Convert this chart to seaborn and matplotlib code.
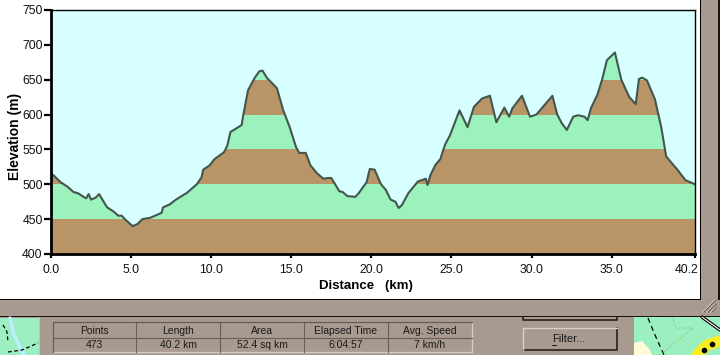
import matplotlib
matplotlib.use("Agg")
import matplotlib.pyplot as plt
from matplotlib import font_manager
from matplotlib.patches import Polygon, Rectangle
from matplotlib.transforms import ScaledTranslation
import numpy as np
import pandas as pd
import seaborn as sns

# Data
distance_km = [0.0, 0.03, 0.2, 0.6, 1.0, 1.4, 1.7, 2.1, 2.2, 2.35, 2.5, 2.8, 3.0, 3.5, 3.9, 4.2, 4.4, 4.7, 5.1,
               5.4, 5.7, 6.2, 6.9, 7.0, 7.4, 7.8, 8.5, 9.1, 9.4, 9.5, 9.9, 10.2, 10.8, 11.0, 11.2, 11.7, 11.9,
               12.0, 12.3, 12.7, 13.0, 13.2, 13.5, 14.1, 14.5, 14.9, 15.3, 15.5, 15.9, 16.2, 16.6, 17.0, 17.3,
               17.5, 18.0, 18.2, 18.5, 19.0, 19.2, 19.7, 19.9, 20.2, 20.6, 20.9, 21.2, 21.5, 21.7, 21.9, 22.3,
               22.9, 23.4, 23.5, 23.7, 24.0, 24.3, 24.6, 24.9, 25.5, 26.0, 26.4, 26.9, 27.4, 27.8, 28.3, 28.6,
               28.8, 29.4, 29.9, 30.3, 31.3, 31.6, 31.9, 32.2, 32.6, 32.9, 33.3, 33.5, 33.7, 34.1, 34.4, 34.7,
               35.2, 35.6, 36.1, 36.5, 36.7, 36.9, 37.2, 37.7, 38.1, 38.4, 38.8, 39.1, 39.6, 40.2]
elevation_m = [488, 515, 512, 503, 497, 489, 487, 481, 480, 486, 478, 481, 486, 467, 461, 455, 455, 448, 440,
               443, 450, 452, 459, 467, 471, 478, 488, 500, 510, 521, 527, 536, 546, 555, 575, 582, 585, 599,
               635, 652, 662, 663, 652, 638, 606, 582, 553, 545, 545, 527, 516, 508, 509, 509, 490, 489, 483,
               482, 487, 503, 522, 521, 500, 492, 478, 475, 466, 470, 487, 504, 508, 499, 514, 528, 536, 557,
               570, 606, 582, 611, 623, 627, 589, 610, 597, 609, 627, 597, 600, 627, 600, 587, 578, 597, 599,
               597, 592, 609, 628, 650, 678, 689, 650, 625, 615, 651, 653, 649, 622, 581, 540, 529, 521, 506, 500]
band_edges = [400, 450, 500, 550, 600, 650, 700]
band_colors = ["#B89467", "#9BF2BD", "#B89467", "#9BF2BD", "#B89467", "#9BF2BD"]
y_ticks = [400, 450, 500, 550, 600, 650, 700, 750]
x_ticks = [0.0, 5.0, 10.0, 15.0, 20.0, 25.0, 30.0, 35.0, 40.2]
x_tick_labels = ["0.0", "5.0", "10.0", "15.0", "20.0", "25.0", "30.0", "35.0", "40.2"]
stat_names = ["Points", "Length", "Area", "Elapsed Time", "Avg. Speed"]
stat_values = ["473", "40.2 km", "52.4 sq km", "6:04:57", "7 km/h"]

GRAY = "#A99A90"
DARK_EDGE = "#6B5C55"
LIGHT_EDGE = "#D9CFC8"

sns.set_theme(style="white")
plt.rcParams["font.family"] = ["Liberation Sans", "DejaVu Sans"]

# narrow face for the small digits, if it is there
installed = {f.name for f in font_manager.fontManager.ttflist}
has_narrow = "Liberation Sans Narrow" in installed
print("narrow:", has_narrow)
SMALL = ["Liberation Sans Narrow", "DejaVu Sans"] if has_narrow else ["Liberation Sans", "DejaVu Sans"]
TICK_SIZE = 10.5 if has_narrow else 8.8
TABLE_SIZE = 9 if has_narrow else 7.5

fig = plt.figure(figsize=(7.2, 3.55), dpi=100, facecolor="white")

# Window chrome, drawn on a full-figure axes in pixel coordinates
bg = fig.add_axes([0, 0, 1, 1], zorder=0)
bg.set_xlim(0, 720)
bg.set_ylim(355, 0)
bg.axis("off")


def box(x0, y0, x1, y1, color):
    bg.add_patch(Rectangle((x0, y0), x1 - x0, y1 - y0, facecolor=color, edgecolor="none"))


def etched(x0, y0, x1, y1):
    bg.plot([x0, x1, x1], [y1, y1, y0], color=LIGHT_EDGE, lw=0.9)
    bg.plot([x0, x0, x1], [y1, y0, y0], color=DARK_EDGE, lw=0.9)


box(701, 0, 718, 300, GRAY)
box(718, 0, 720, 300, "#1A1010")
box(700, 0, 701, 300, "black")
box(0, 300, 720, 355, GRAY)
box(0, 299, 701, 300, "black")
box(0, 316, 720, 317, "#1A1010")
box(39, 317, 40, 355, "#C8BDB5")

# resize grip
for off in (4, 8, 12):
    bg.plot([715 - off, 715], [312, 312 - off], color="#E5DDD8", lw=0.8)
    bg.plot([716 - off, 716], [312, 312 - off], color="#6B5C55", lw=0.8)

# bits of the map behind the dialog
box(0, 318, 39, 355, "#9BEFC0")
bg.plot([10, 14, 24], [318, 335, 355], color="#BFEFFF", lw=2.5)
bg.plot([3, 7, 8], [325, 332, 342], color="black", lw=0.9, ls=(0, (3, 2)))
bg.plot([8, 22, 38], [352, 350, 343], color="black", lw=0.9, ls=(0, (3, 2)))
box(634, 317, 720, 355, "#9BEFC0")
bg.add_patch(Polygon([(634, 343), (642, 341), (650, 350), (652, 355), (634, 355)],
                     facecolor="#FFFBD8", edgecolor="none"))
bg.plot([648, 655, 664], [318, 335, 355], color="black", lw=0.9, ls=(0, (4, 3)))
bg.plot([672, 676, 693, 660], [317, 328, 328, 355], color="#8FBF5A", lw=0.8, ls=":")
bg.plot([702, 720], [317, 330], color="black", lw=2.4)
bg.plot([702, 720], [317, 330], color="white", lw=0.8)
bg.plot([697, 707, 720], [355, 345, 341], color="#F8EE20", lw=8)
bg.plot([704, 712], [350, 344], color="black", ls="none", marker="o", ms=3)

# stats table
col_edges = [53, 136, 220, 304, 388, 472]
for i, name in enumerate(stat_names):
    x0, x1 = col_edges[i], col_edges[i + 1]
    etched(x0, 322, x1, 338)
    etched(x0, 338, x1, 352)
    bg.text((x0 + x1) / 2, 330.5, name, ha="center", va="center", fontsize=TABLE_SIZE,
            color="#1A1A1A", family=SMALL)
    bg.text((x0 + x1) / 2, 345, stat_values[i], ha="center", va="center", fontsize=TABLE_SIZE,
            color="#1A1A1A", family=SMALL)

# buttons
bg.plot([523, 523, 617, 617], [317, 320, 320, 317], color="#2A2020", lw=1.2)
bg.plot([523, 617, 617], [350, 350, 328], color="#2A2020", lw=1.2)
bg.plot([523, 523, 617], [350, 328, 328], color=LIGHT_EDGE, lw=1.0)
bg.text(569, 339, "Filter...", ha="center", va="center", fontsize=8, color="#1A1A1A")
bg.plot([552, 556], [344.5, 344.5], color="#1A1A1A", lw=0.7)

# Elevation profile
ax = fig.add_axes([51 / 720, 1 - 254 / 355, 644 / 720, 244 / 355], zorder=1)
ax.set_facecolor("#D8FFFF")
df = pd.DataFrame({"distance": distance_km, "elevation": elevation_m})

ground = ax.fill_between(df["distance"], 400, df["elevation"], color="none", lw=0)
clip = ground.get_paths()[0]
for lo, hi, color in zip(band_edges[:-1], band_edges[1:], band_colors):
    band = ax.axhspan(lo, hi, facecolor=color, edgecolor="none", zorder=1)
    band.set_clip_path(clip, transform=ax.transData)

sns.lineplot(data=df, x="distance", y="elevation", estimator=None, sort=False,
             color="#43564E", lw=1.5, ax=ax, zorder=2, solid_joinstyle="round")

ax.set_xlim(0, 40.2)
ax.set_ylim(400, 750)
ax.set_xticks(x_ticks)
ax.set_xticklabels(x_tick_labels)
ax.set_yticks(y_ticks)
ax.tick_params(axis="y", length=5, width=1.6, pad=1, labelsize=TICK_SIZE, color="black",
               labelcolor="#111111", left=True)
ax.tick_params(axis="x", length=3, width=1.6, pad=4, labelsize=TICK_SIZE, color="black",
               labelcolor="#111111", bottom=True)
for lab in ax.get_xticklabels() + ax.get_yticklabels():
    lab.set_family(SMALL)

# last distance label sits left of its tick so it stays inside the white window
last = ax.get_xticklabels()[-1]
last.set_ha("right")
last.set_transform(last.get_transform() + ScaledTranslation(3 / 100, 0, fig.dpi_scale_trans))

ax.set_xlabel("Distance   (km)", fontsize=9.5, fontweight="bold", color="black")
ax.set_ylabel("Elevation (m)", fontsize=10, fontweight="bold", color="black")
ax.xaxis.set_label_coords((366 - 51) / 644, -(286 - 254) / 244, transform=ax.transAxes)
ax.xaxis.label.set_va("center")
ax.yaxis.set_label_coords((15 - 51) / 644, (254 - 136) / 244, transform=ax.transAxes)
ax.yaxis.label.set_va("center")
for side, lw in {"left": 2.0, "bottom": 2.0, "top": 1.0, "right": 1.0}.items():
    ax.spines[side].set_visible(True)
    ax.spines[side].set_color("black")
    ax.spines[side].set_linewidth(lw)

fig.savefig("out.png", dpi=100, facecolor="white")
